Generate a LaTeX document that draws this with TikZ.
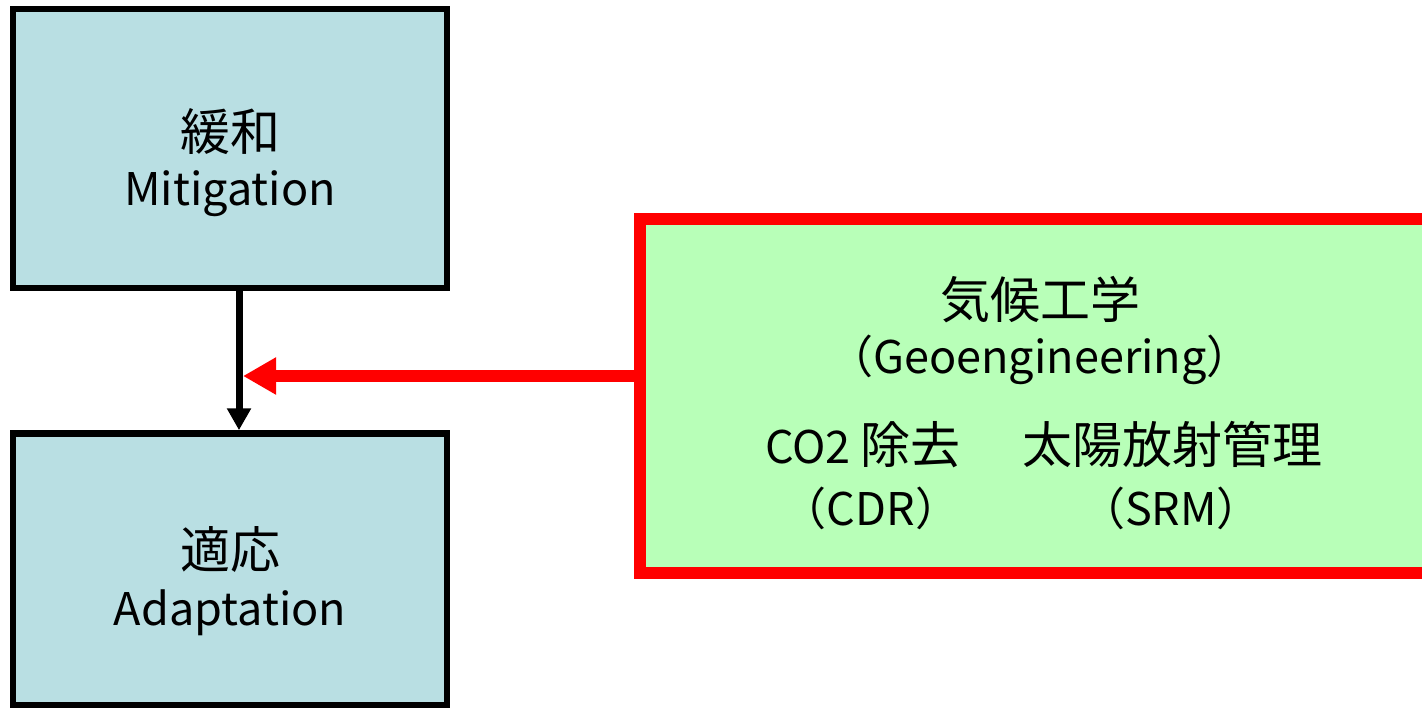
\documentclass[tikz,border=0pt]{standalone}
\usepackage{fontspec}
\setmainfont{Noto Sans CJK JP}
\usetikzlibrary{arrows.meta}
\definecolor{boxblue}{HTML}{B9DFE3}
\definecolor{boxgreen}{HTML}{B8FFB8}
\definecolor{geored}{HTML}{FF0000}
\newcommand{\jpsize}{\fontsize{50}{60}\selectfont}
\newcommand{\ensize}{\fontsize{45}{54}\selectfont}
\begin{document}
\begin{tikzpicture}[x=1pt,y=-1pt,
  bluebox/.style={draw=black, fill=boxblue, line width=6.5pt, inner sep=0pt},
  greenbox/.style={draw=geored, fill=boxgreen, line width=12pt, inner sep=0pt},
  jp/.style={font=\jpsize, inner sep=0pt, anchor=base},
  en/.style={font=\ensize, inner sep=0pt, anchor=base},
  blackarrow/.style={draw=black, line width=7pt, -{Triangle[width=23pt,length=22pt]}},
  redarrow/.style={draw=geored, line width=12pt, -{Triangle[width=35pt,length=33pt]}},
]
\useasboundingbox (0,0) rectangle (1422,707);

% boxes
\node[bluebox, minimum width=434pt, minimum height=279pt] (mit) at (230,148.5) {};
\node[bluebox, minimum width=434pt, minimum height=271.5pt] (ada) at (230,569.25) {};
\node[greenbox, minimum width=800pt, minimum height=354pt] (geo) at (1040,395.5) {};

% texts
\node[jp] (mitjp) at (230,150) {緩和};
\node[en] (miten) at (230,205) {Mitigation};
\node[jp] (adajp) at (230,568) {適応};
\node[en] (adaen) at (230,625) {Adaptation};
\node[jp] (geojp) at (1040,318) {気候工学};
\node[en] (geoen) at (1040,373) {（Geoengineering）};
\node[en] (cdrjp) at (863,463) {CO2 {\jpsize 除去}};
\node[jp] (srmjp) at (1172,463) {太陽放射管理};
\node[en] (cdren) at (871,525) {（CDR）};
\node[en] (srmen) at (1171,525) {（SRM）};

% connectors
\coordinate (ax) at (239,0);
\draw[blackarrow] (mit.south -| ax) -- (ada.north -| ax);
\coordinate (hit) at (243,376);
\draw[redarrow] (geo.west |- hit) -- (hit);
\end{tikzpicture}
\end{document}
